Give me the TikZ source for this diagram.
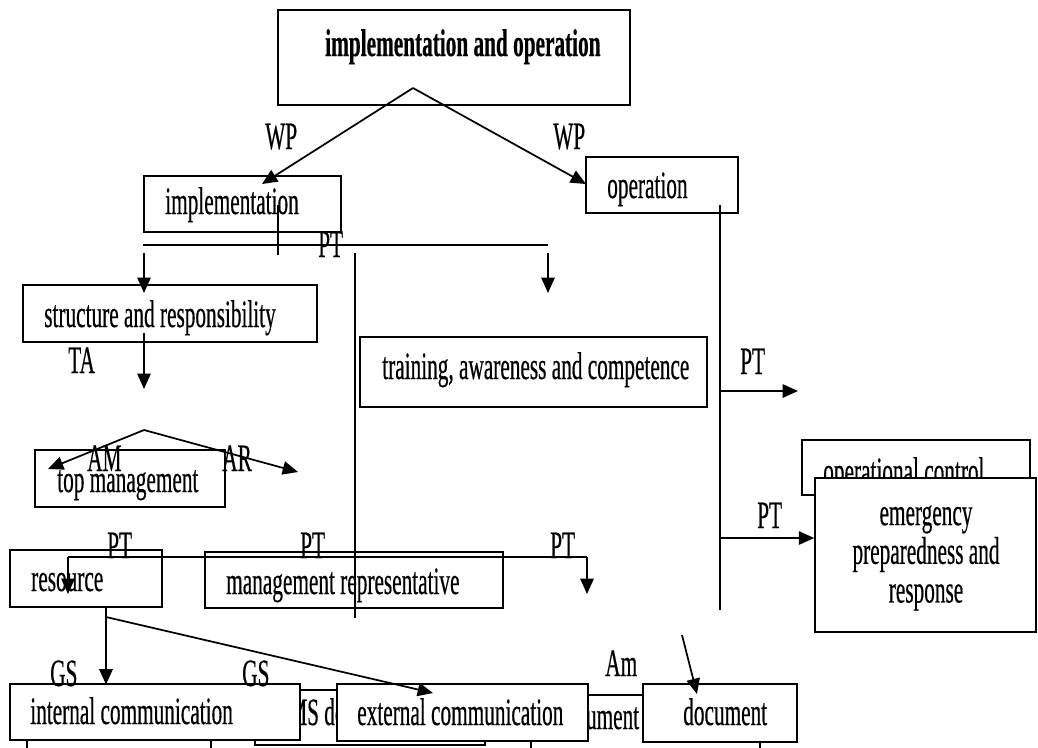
\documentclass[tikz,border=0pt]{standalone}
\usepackage{fontspec}
\setmainfont{Liberation Serif}[FakeStretch=0.55, FakeBold=0.4]
\usetikzlibrary{arrows.meta,fit}
\begin{document}
\begin{tikzpicture}[x=0.75pt,y=-0.75pt,
  box/.style={draw, line width=1.2pt, fill=white, inner sep=0pt, rectangle},
  txt/.style={anchor=base west, inner sep=0pt, font=\fontsize{29}{29}\selectfont},
  ttl/.style={txt, font=\fontsize{29}{29}\selectfont\bfseries},
  ln/.style={line width=1.3pt},
  arr/.style={ln, -{Triangle[length=11.5pt,width=10pt]}}]
\clip (0,0) rectangle (1038,747);
\fill[white] (0,0) rectangle (1038,747);

% hidden bottom boxes
\node[box, fit={(255,690)(485,745)}] (ems) {};
\node[txt] (emst) at (275,725) {EMS documentation};
\node[box, fit={(531,695)(760,765)}] (dctl) {};
\node[txt] (dctlt) at (555,729) {document control};

% boxes
\node[box, fit={(278,10)(630,105)}] (top) {};
\node[ttl] (topt) at (325,56) {implementation and operation};
\node[box, fit={(144,176)(341,232)}] (impl) {};
\node[txt] (implt) at (165,214) {implementation};
\node[box, fit={(586,157)(738,213)}] (oper) {};
\node[txt] (opert) at (607,198) {operation};
\node[box, fit={(23,285)(317,342)}] (struct) {};
\node[txt] (structt) at (44,327) {structure and responsibility};
\node[box, fit={(360,337)(707,407)}] (train) {};
\node[txt] (traint) at (382,379) {training, awareness and competence};
\node[box, fit={(35,450)(225,507)}] (topm) {};
\node[txt] (topmt) at (57,492) {top management};
\node[box, fit={(10,550)(162,607)}] (res) {};
\node[txt] (rest) at (31,591) {resource};
\node[box, fit={(205,552)(503,608)}] (mrep) {};
\node[txt] (mrept) at (226,594) {management representative};
\node[box, fit={(802,440)(1030,495)}] (opctl) {};
\node[txt] (opctlt) at (823,484) {operational control};
\node[box, fit={(815,478)(1036,632)}] (emerg) {};
\node[txt, anchor=center, align=center, font=\fontsize{29}{29}\selectfont] (emergt) at (926,558) {emergency\\preparedness and\\response};
\node[box, fit={(10,684)(300,740)}] (intc) {};
\node[txt] (intct) at (30,724) {internal communication};
\node[box, fit={(337,684)(588,741)}] (extc) {};
\node[txt] (extct) at (357,725) {external communication};
\node[box, fit={(643,684)(797,742)}] (doc) {};
\node[txt] (doct) at (683,725) {document};

% coordinates
\coordinate (a1) at (413,88);
\coordinate (t1) at (262,184);
\coordinate (t2) at (586,184);
\coordinate (h1l) at (143,245);
\coordinate (h1r) at (548,245);
\coordinate (k1) at (278,205);
\coordinate (k2) at (278,255);
\coordinate (v1a) at (355,253);
\coordinate (v1b) at (355,618);
\coordinate (s1a) at (144,253);
\coordinate (s1b) at (144,293);
\coordinate (s2a) at (548,253);
\coordinate (s2b) at (548,293);
\coordinate (s3a) at (144,333);
\coordinate (s3b) at (144,389);
\coordinate (v2a) at (720,205);
\coordinate (v2b) at (720,610);
\coordinate (p1a) at (720,391);
\coordinate (p1b) at (798,391);
\coordinate (p2a) at (720,538);
\coordinate (a2) at (144,430);
\coordinate (t3) at (48,469);
\coordinate (t4) at (298,472);
\coordinate (h2l) at (68,557);
\coordinate (h2r) at (587,557);
\coordinate (d1) at (68,594);
\coordinate (d2) at (587,594);
\coordinate (r1) at (106,607);
\coordinate (r2) at (106,617);
\coordinate (t5) at (433,693);
\coordinate (g1) at (682,635);
\coordinate (g2) at (697,694);

% connectors
\draw[arr] (a1) -- (t1);
\draw[arr] (a1) -- (t2);
\draw[ln] (h1l) -- (h1r);
\draw[ln] (k1) -- (k2);
\draw[ln] (v1a) -- (v1b);
\draw[arr] (s1a) -- (s1b);
\draw[arr] (s2a) -- (s2b);
\draw[arr] (s3a) -- (s3b);
\draw[ln] (v2a) -- (v2b);
\draw[arr] (p1a) -- (p1b);
\draw[arr] (p2a) -- (p2a -| emerg.west);
\draw[arr] (a2) -- (t3);
\draw[arr] (a2) -- (t4);
\draw[ln] (h2l) -- (h2r);
\draw[arr] (h2l) -- (d1);
\draw[arr] (h2r) -- (d2);
\draw[arr] (r1) -- ([yshift=-1pt]r1 |- intc.north);
\draw[arr] (r2) -- (t5);
\draw[arr] (g1) -- (g2);
\draw[ln] (intc.south -| 27,0) -- ++(0,12);
\draw[ln] (intc.south -| 211,0) -- ++(0,12);

% labels
\node[txt] (wp1) at (265,149) {WP};
\node[txt] (wp2) at (553,149) {WP};
\node[txt] (pt1) at (318,257) {PT};
\node[txt] (ta) at (68,373) {TA};
\node[txt] (pt2) at (740,374) {PT};
\node[txt] (pt3) at (757,528) {PT};
\node[txt] (am) at (87,471) {AM};
\node[txt] (ar) at (222,471) {AR};
\node[txt] (pt4) at (107,558) {PT};
\node[txt] (pt5) at (300,558) {PT};
\node[txt] (pt6) at (550,558) {PT};
\node[txt] (gs1) at (50,686) {GS};
\node[txt] (gs2) at (242,686) {GS};
\node[txt] (amx) at (605,676) {Am};
\end{tikzpicture}
\end{document}
